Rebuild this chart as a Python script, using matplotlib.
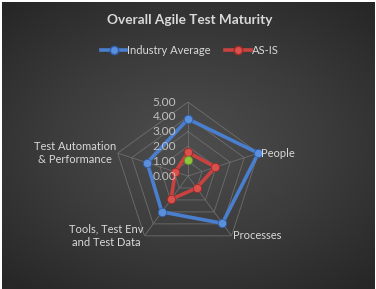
import numpy as np
import matplotlib
matplotlib.use('Agg')
import matplotlib.pyplot as plt
from matplotlib.lines import Line2D

plt.rcParams['font.family'] = ['Lato', 'DejaVu Sans']

# Data
categories = ['', 'People', 'Processes', 'Tools, Test Env\nand Test Data', 'Test Automation\n& Performance']
industry_avg = [3.85, 5.00, 3.95, 3.00, 2.90]
as_is = [1.60, 1.95, 1.00, 1.95, 0.90]
extra_point = [1.05]          # lone green marker on the first axis
r_ticks = [0, 1, 2, 3, 4, 5]

blue = '#4a7fcf'
red = '#c9423f'
green = '#8fc43d'
grid_col = '#6e6e6e'

fig = plt.figure(figsize=(3.76, 2.89), dpi=100, facecolor='white')

# dark gradient background of the chart area
bg = fig.add_axes([2/376, 0, 373/376, 287/289])
yy, xx = np.mgrid[-1:1:200j, -1:1:200j]
dist = np.sqrt((xx*1.0)**2 + (yy*1.1)**2)
bg.imshow(dist, cmap=matplotlib.colors.LinearSegmentedColormap.from_list('g', ['#4e4e4e', '#3c3c3c', '#272727']),
          vmin=0, vmax=1.45, aspect='auto', extent=[0, 1, 0, 1])
bg.set_axis_off()

# polar axes for the radar
cx, cy, R = 188, 289 - 176, 74
ax = fig.add_axes([(cx - R)/376, (cy - R)/289, 2*R/376, 2*R/289], projection='polar')
ax.set_facecolor('none')
ax.set_theta_offset(np.pi/2)
ax.set_theta_direction(-1)
ax.set_ylim(0, 5)
ax.grid(False)
ax.spines['polar'].set_visible(False)
ax.set_xticks([])
ax.set_yticks([])

n = len(categories)
theta = np.arange(n) * 2*np.pi/n
theta_c = np.append(theta, theta[0])

# pentagon grid
for r in r_ticks[1:]:
    ax.plot(theta_c, [r]*(n+1), color=grid_col, lw=0.6, zorder=1)
for t in theta:
    ax.plot([t, t], [0, 5], color=grid_col, lw=0.6, zorder=1)

# series
ax.plot(theta_c, industry_avg + industry_avg[:1], color=blue, lw=2.6, marker='o', ms=6,
        mfc='#5b8fdc', mec='#2f5fa8', mew=0.6, zorder=3, clip_on=False)
ax.plot(theta_c, as_is + as_is[:1], color=red, lw=2.6, marker='o', ms=6,
        mfc='#d9504c', mec='#9e2a28', mew=0.6, zorder=3, clip_on=False)
ax.plot(theta[:1], extra_point, ls='none', marker='o', ms=6, mfc=green, mec='#5f8a25', mew=0.6,
        zorder=4, clip_on=False)

# radial tick labels
for r in r_ticks:
    ax.annotate(f'{r:.2f}', xy=(0, r), xytext=(-8.6, 0), textcoords='offset points',
                ha='right', va='center', fontsize=8.6, color='#bfbfbf', annotation_clip=False)

# category labels
offsets = [(0, 4, 'center', 'bottom'), (2, 0, 'left', 'center'), (1, 0, 'left', 'center'),
           (-1, 0, 'right', 'center'), (-1, 0, 'right', 'center')]
for t, lab, (dx, dy, ha, va) in zip(theta, categories, offsets):
    ax.annotate(lab, xy=(t, 5), xytext=(dx, dy), textcoords='offset points', ha=ha, va=va,
                multialignment='center', fontsize=8, color='#d9d9d9', annotation_clip=False,
                linespacing=1.25)

fig.text(0.505, 1 - 20/289, 'Overall Agile Test Maturity', ha='center', va='center',
         fontsize=9.8, fontweight='bold', color='#d9d9d9')

handles = [Line2D([], [], color=blue, lw=2.6, marker='o', ms=6, mfc='#5b8fdc', mec='#2f5fa8'),
           Line2D([], [], color=red, lw=2.6, marker='o', ms=6, mfc='#d9504c', mec='#9e2a28')]
leg = fig.legend(handles, ['Industry Average', 'AS-IS'], loc='center', ncol=2,
                 bbox_to_anchor=(0.505, 1 - 50/289), frameon=False, fontsize=8,
                 handlelength=2.3, handletextpad=0.1, columnspacing=1.3)
for txt in leg.get_texts():
    txt.set_color('#d9d9d9')

fig.savefig('out.png', dpi=100, facecolor='white')
